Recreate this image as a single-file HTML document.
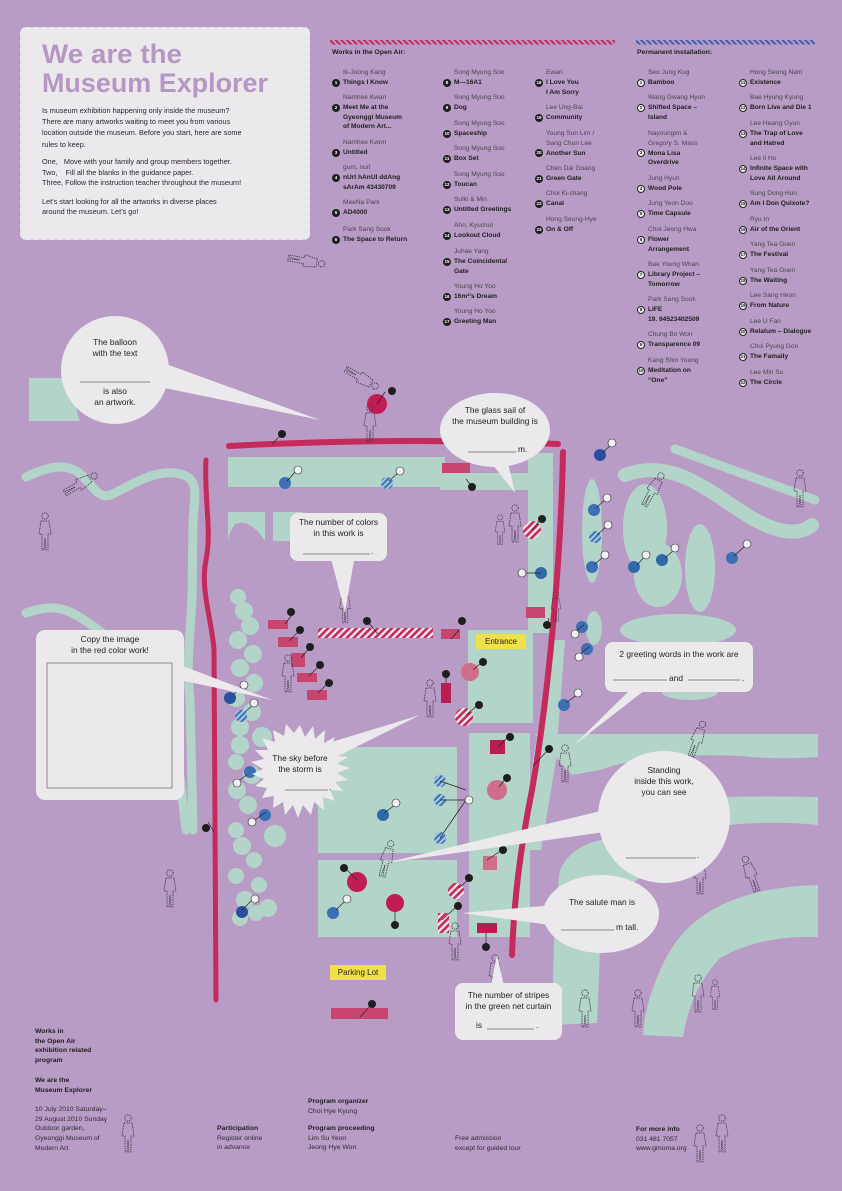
<!DOCTYPE html>
<html><head><meta charset="utf-8">
<style>
*{margin:0;padding:0;box-sizing:border-box}
body{width:842px;height:1191px;background:#b99cc5;position:relative;overflow:hidden;font-family:"Liberation Sans",sans-serif;color:#222}
svg.map{position:absolute;left:0;top:0}
.e{position:absolute;padding-left:11px;line-height:9.8px;font-size:6.6px;white-space:nowrap}
.e .nm{color:#4b4450}
.e b{color:#1e1e1e}
.e .c{position:absolute;left:0;top:10.5px;width:8px;height:8px;border-radius:50%;background:#1e1e1e;color:#fff;font-size:4.6px;text-align:center;line-height:8px;font-style:normal;font-weight:bold}
.e .p{background:#efedf0;color:#222;border:0.8px solid #222;line-height:6.6px}
.hd{position:absolute;font-size:6.8px;font-weight:bold;color:#1e1e1e}
.bt{position:absolute;font-size:7.3px;line-height:11.2px;color:#2b2630;white-space:nowrap}
.ft{position:absolute;font-size:6.8px;line-height:9.7px;color:#2f2a33;white-space:nowrap}
.ft b{color:#1e1e1e}
.bl{position:absolute;font-size:8.4px;line-height:11px;color:#222;text-align:center;white-space:nowrap}
.lab{position:absolute;font-size:8px;text-align:center;line-height:15px;color:#222}
</style></head><body>

<svg class="map" width="842" height="1191" viewBox="0 0 842 1191">
<defs>
<pattern id="rs" width="5" height="5" patternUnits="userSpaceOnUse" patternTransform="rotate(45)"><rect width="5" height="5" fill="#efe6ec"/><rect width="2.6" height="5" fill="#c42a5a"/></pattern>
<pattern id="bs" width="4" height="4" patternUnits="userSpaceOnUse" patternTransform="rotate(45)"><rect width="4" height="4" fill="#a9c9e2"/><rect width="2" height="4" fill="#3c73b4"/></pattern>
<pattern id="hr" width="4" height="4" patternUnits="userSpaceOnUse" patternTransform="rotate(-45)"><rect width="4" height="4" fill="#b99cc5"/><rect width="2" height="4" fill="#c42a5a"/></pattern>
<pattern id="hb" width="4" height="4" patternUnits="userSpaceOnUse" patternTransform="rotate(-45)"><rect width="4" height="4" fill="#b99cc5"/><rect width="2" height="4" fill="#3c5fb0"/></pattern>
<g id="fig" fill="none" stroke="#3a3340" stroke-width="0.8" stroke-dasharray="1.4 0.9"><circle cx="0" cy="-22" r="3.2"/><path d="M-4,-17 L4,-17 L6,-4 L3,-4 L3,12 L1,12 L0,0 L-1,12 L-3,12 L-3,-4 L-6,-4 Z"/></g>
</defs>

<rect x="330" y="40" width="285" height="4.5" fill="url(#hr)"/>
<rect x="636" y="40" width="179" height="4.5" fill="url(#hb)"/>

<g fill="#b3d4c9">
<path d="M29,378 L80,378 Q72,400 80,421 L29,421 Z"/>
<rect x="228" y="457" width="217" height="30"/>
<rect x="440" y="473" width="88" height="17"/>
<path d="M228,512 L265,512 L265,541 Q250,518 235,524 Q230,530 228,541 Z"/>
<rect x="273" y="512" width="30" height="29"/>
<rect x="528" y="453" width="25" height="180"/>
<rect x="503" y="473" width="25" height="17"/>
<rect x="468" y="630" width="65" height="93"/>
<rect x="469" y="733" width="61" height="204"/>
<rect x="318" y="747" width="139" height="106"/>
<rect x="318" y="860" width="139" height="77"/>
<!-- right side -->
<path d="M535,734 L818,734 L818,757 Q780,760 740,756 Q650,752 600,770 L572,775 Z"/>
<path d="M553,640 L565,640 L556,760 L541,850 L523,850 L533,760 Z"/>
<path d="M720,797 Q770,796 818,797 L818,825 Q770,820 720,826 Z"/>
<path d="M560,870 Q572,843 612,838 L640,878 Q605,900 600,950 L597,1023 L553,1025 Q552,930 560,870 Z"/>
<path d="M818,885 Q700,888 665,960 Q645,1000 643,1035 L683,1037 Q690,990 720,958 Q760,935 818,937 Z"/>
<ellipse cx="592" cy="531" rx="10" ry="52"/>
<ellipse cx="645" cy="528" rx="22" ry="44"/>
<ellipse cx="658" cy="575" rx="24" ry="32"/>
<ellipse cx="700" cy="568" rx="15" ry="44"/>
<ellipse cx="678" cy="630" rx="58" ry="16"/>
<ellipse cx="594" cy="628" rx="8" ry="17"/>
<ellipse cx="690" cy="692" rx="28" ry="8"/>
<!-- left circles column -->
<circle cx="238" cy="597" r="8"/><circle cx="244" cy="611" r="9"/><circle cx="250" cy="626" r="9"/><circle cx="238" cy="640" r="9"/><circle cx="253" cy="654" r="9"/><circle cx="240" cy="668" r="9"/><circle cx="254" cy="683" r="9"/><circle cx="236" cy="698" r="9"/><circle cx="252" cy="712" r="9"/><circle cx="240" cy="727" r="9"/><circle cx="262" cy="737" r="10"/><circle cx="240" cy="745" r="9"/><circle cx="236" cy="762" r="8"/><circle cx="252" cy="775" r="9"/><circle cx="237" cy="790" r="9"/><circle cx="248" cy="805" r="9"/><circle cx="275" cy="836" r="11"/><circle cx="236" cy="830" r="8"/><circle cx="242" cy="846" r="9"/><circle cx="254" cy="860" r="8"/><circle cx="236" cy="876" r="8"/><circle cx="259" cy="885" r="8"/><circle cx="245" cy="900" r="9"/><circle cx="268" cy="908" r="9"/><circle cx="240" cy="918" r="8"/><circle cx="256" cy="913" r="8"/>
</g>
<g fill="none" stroke="#b3d4c9" stroke-width="9" stroke-linecap="round">
<path d="M26,477 C45,468 62,463 76,471 S96,500 110,495 S150,470 175,473 S195,492 193,520 L192,600 C190,640 186,660 190,700 L193,830"/>
<path d="M26,613 C40,608 55,605 70,612 S95,628 112,640 C140,665 165,700 178,760 L186,830"/>
<path d="M675,449 L815,500"/>
<path d="M625,475 C670,458 705,488 742,512 S800,535 812,525" stroke-width="14"/>
</g>

<g fill="none" stroke="#c42a5a" stroke-linecap="round">
<path d="M229,446 Q400,437 558,444" stroke-width="6"/>
<path d="M563,452 C561,560 548,700 532,790 C520,850 514,900 512,955" stroke-width="6"/>
<path d="M206,460 C204,500 212,530 206,560 C200,590 212,620 214,650 L216,1000" stroke-width="5"/>
</g>

<g>
<rect x="318" y="628" width="115" height="10" fill="url(#rs)"/>
<g fill="#c8456f">
<rect x="268" y="620" width="20" height="9"/><rect x="278" y="637" width="20" height="10"/><rect x="291" y="653" width="14" height="14"/><rect x="297" y="673" width="20" height="9"/><rect x="307" y="690" width="20" height="10"/>
<rect x="442" y="463" width="28" height="10"/><rect x="526" y="607" width="19" height="11"/><rect x="441" y="629" width="19" height="10"/>
<rect x="331" y="1008" width="57" height="11"/><rect x="483" y="856" width="14" height="14" fill="#cf6d8a"/>
</g>
<rect x="441" y="683" width="10" height="20" fill="#b81e4f"/>
<rect x="490" y="740" width="15" height="14" fill="#b81e4f"/>
<rect x="477" y="923" width="20" height="10" fill="#b81e4f"/>
<circle cx="377" cy="404" r="10" fill="#c21d52"/>
<circle cx="470" cy="672" r="9" fill="#cf6d8a"/>
<circle cx="464" cy="717" r="9" fill="url(#rs)"/>
<circle cx="532" cy="530" r="9" fill="url(#rs)"/>
<circle cx="497" cy="790" r="10" fill="#cf6d8a"/>
<circle cx="357" cy="882" r="10" fill="#c21d52"/>
<circle cx="395" cy="903" r="9" fill="#c21d52"/>
<circle cx="456" cy="891" r="8" fill="url(#rs)"/>
<rect x="438" y="913" width="11" height="20" fill="url(#rs)"/>
<g fill="#3c6fb3">
<circle cx="285" cy="483" r="6"/><circle cx="387" cy="483" r="6" fill="url(#bs)"/><circle cx="541" cy="573" r="6" fill="#2f6aa6"/>
<circle cx="230" cy="698" r="6" fill="#2b4f9f"/><circle cx="241" cy="716" r="6" fill="url(#bs)"/><circle cx="250" cy="772" r="6"/><circle cx="265" cy="815" r="6"/><circle cx="242" cy="912" r="6" fill="#2b4f9f"/>
<circle cx="383" cy="815" r="6" fill="#2f6aa6"/><circle cx="440" cy="781" r="6" fill="url(#bs)"/><circle cx="440" cy="800" r="6" fill="url(#bs)"/><circle cx="440" cy="838" r="6" fill="url(#bs)"/><circle cx="333" cy="913" r="6"/>
<circle cx="600" cy="455" r="6" fill="#2b4f9f"/><circle cx="594" cy="510" r="6"/><circle cx="595" cy="537" r="6" fill="url(#bs)"/><circle cx="592" cy="567" r="6"/><circle cx="634" cy="567" r="6" fill="#2f6aa6"/><circle cx="662" cy="560" r="6" fill="#2f6aa6"/><circle cx="732" cy="558" r="6"/><circle cx="582" cy="627" r="6"/><circle cx="587" cy="649" r="6"/><circle cx="564" cy="705" r="6"/>
</g>
</g>

<g stroke="#222" stroke-width="0.7">
<path d="M272,444 L282,434 M466,479 L470,484 M377,404 L385,392 M541,573 L525,573 M287,481 L297,470 M389,481 L399,472 M532,530 L540,520 M549,618 L548,622 M451,639 L459,630 M446,683 L446,675 M473,670 L482,662 M466,715 L478,705 M498,747 L508,737 M378,634 L368,622 M285,624 L292,615 M289,641 L298,632 M301,658 L309,648 M309,676 L318,667 M318,693 L327,684 M234,694 L243,685 M245,712 L253,705 M247,775 L238,781 M266,812 L255,820 M242,910 L252,900 M499,787 L506,778 M384,813 L395,805 M357,880 L347,870 M395,912 L395,922 M336,910 L346,900 M459,888 L469,879 M442,920 L455,908 M487,860 L502,850 M486,933 L486,947 M360,1017 L370,1006 M208,822 L214,832 M533,766 L548,750 M602,453 L612,444 M596,508 L606,499 M597,535 L607,526 M594,565 L604,556 M637,565 L645,556 M665,558 L675,549 M734,556 L746,545 M584,625 L576,631 M589,647 L580,654 M566,703 L578,694 M440,781 L466,790 M440,800 L466,800 M440,838 L466,800"/>
</g>
<g font-family="Liberation Sans" font-size="4.6" font-weight="bold" text-anchor="middle">
<g fill="#1e1e1e">
<circle cx="282" cy="434" r="4"/><circle cx="472" cy="487" r="4"/><circle cx="392" cy="391" r="4"/><circle cx="542" cy="519" r="4"/><circle cx="547" cy="625" r="4"/><circle cx="462" cy="621" r="4"/><circle cx="446" cy="674" r="4"/><circle cx="483" cy="662" r="4"/><circle cx="479" cy="705" r="4"/><circle cx="510" cy="737" r="4"/><circle cx="367" cy="621" r="4"/><circle cx="291" cy="612" r="4"/><circle cx="300" cy="630" r="4"/><circle cx="310" cy="647" r="4"/><circle cx="320" cy="665" r="4"/><circle cx="329" cy="683" r="4"/><circle cx="507" cy="778" r="4"/><circle cx="344" cy="868" r="4"/><circle cx="395" cy="925" r="4"/><circle cx="469" cy="878" r="4"/><circle cx="458" cy="906" r="4"/><circle cx="503" cy="850" r="4"/><circle cx="486" cy="947" r="4"/><circle cx="372" cy="1004" r="4"/><circle cx="206" cy="828" r="4"/><circle cx="549" cy="749" r="4"/>
</g>
<g fill="#f2f0f3" stroke="#222" stroke-width="0.6">
<circle cx="298" cy="470" r="4"/><circle cx="400" cy="471" r="4"/><circle cx="522" cy="573" r="4"/><circle cx="244" cy="685" r="4"/><circle cx="254" cy="703" r="4"/><circle cx="237" cy="783" r="4"/><circle cx="252" cy="822" r="4"/><circle cx="255" cy="899" r="4"/><circle cx="396" cy="803" r="4"/><circle cx="347" cy="899" r="4"/><circle cx="469" cy="800" r="4"/><circle cx="612" cy="443" r="4"/><circle cx="607" cy="498" r="4"/><circle cx="608" cy="525" r="4"/><circle cx="605" cy="555" r="4"/><circle cx="646" cy="555" r="4"/><circle cx="675" cy="548" r="4"/><circle cx="747" cy="544" r="4"/><circle cx="575" cy="634" r="4"/><circle cx="579" cy="657" r="4"/><circle cx="578" cy="693" r="4"/>
</g>
</g>

<g>
<use href="#fig" transform="translate(370,430)"/>
<use href="#fig" transform="translate(515,530)"/>
<use href="#fig" transform="translate(500,535) scale(0.8)"/>
<use href="#fig" transform="translate(288,680)"/>
<use href="#fig" transform="translate(430,705)"/>
<use href="#fig" transform="translate(455,948)"/>
<use href="#fig" transform="translate(495,980)"/>
<use href="#fig" transform="translate(565,770)"/>
<use href="#fig" transform="translate(385,865) rotate(15)"/>
<use href="#fig" transform="translate(45,538)"/>
<use href="#fig" transform="translate(75,487) rotate(60)"/>
<use href="#fig" transform="translate(345,612) scale(0.9)"/>
<use href="#fig" transform="translate(556,612) scale(0.8)"/>
<use href="#fig" transform="translate(800,495)"/>
<use href="#fig" transform="translate(650,495) rotate(30)"/>
<use href="#fig" transform="translate(695,745) rotate(20)"/>
<use href="#fig" transform="translate(753,880) rotate(-20)"/>
<use href="#fig" transform="translate(700,882)"/>
<use href="#fig" transform="translate(698,1000)"/>
<use href="#fig" transform="translate(715,1000) scale(0.8)"/>
<use href="#fig" transform="translate(300,260) rotate(100)"/>
<use href="#fig" transform="translate(356,375) rotate(120)"/>
<use href="#fig" transform="translate(170,895)"/>
<use href="#fig" transform="translate(128,1140)"/>
<use href="#fig" transform="translate(722,1140)"/>
<use href="#fig" transform="translate(700,1150)"/>
<use href="#fig" transform="translate(585,1015)"/>
<use href="#fig" transform="translate(638,1015)"/>
</g>

<g fill="#ebe9ec">
<path d="M150,385 L320,420 L155,360 Z"/>
<circle cx="115" cy="370" r="54"/>
<path d="M485,455 L515,493 L505,450 Z"/>
<ellipse cx="495" cy="430" rx="55" ry="37"/>
<path d="M330,555 L345,612 L355,555 Z"/>
<rect x="290" y="513" width="97" height="48" rx="8"/>
<path d="M180,680 L272,700 L180,665 Z"/>
<rect x="36" y="630" width="148" height="170" rx="9"/>
<path d="M320,765 L420,715 L322,745 Z"/>
<polygon points="300,725 305,737 313,726 315,739 325,730 324,743 335,737 330,749 343,746 335,756 348,757 337,764 350,768 337,773 348,780 335,782 343,791 330,790 335,801 323,797 324,810 314,802 311,815 303,805 298,818 293,805 285,815 283,802 273,808 274,796 262,798 267,788 255,786 264,779 252,774 263,769 251,762 264,759 255,750 268,750 262,738 275,742 273,730 284,736 286,724 294,733"/>
<path d="M630,690 L573,746 L645,690 Z"/>
<rect x="605" y="642" width="148" height="50" rx="8"/>
<path d="M605,810 L385,863 L605,832 Z"/>
<circle cx="664" cy="817" r="66"/>
<path d="M555,905 L462,913 L550,925 Z"/>
<ellipse cx="601" cy="914" rx="58" ry="39"/>
<path d="M490,990 L497,955 L505,990 Z"/>
<rect x="455" y="983" width="107" height="57" rx="8"/>
</g>
<g stroke="#666" stroke-width="0.7" fill="none">
<path d="M80,382 L150,382"/>
<path d="M468,452 L516,452"/>
<path d="M303,554 L370,554"/>
<rect x="47" y="663" width="125" height="125"/>
<path d="M285,790 L328,790"/>
<path d="M613,680 L667,680 M688,680 L740,680"/>
<path d="M626,858 L696,858"/>
<path d="M561,930 L614,930"/>
<path d="M487,1029 L534,1029"/>
</g>
<rect x="476" y="634" width="50" height="15" fill="#f0e14a"/>
<rect x="330" y="965" width="56" height="15" fill="#f0e14a"/>
</svg>

<div style="position:absolute;left:20px;top:27px;width:290px;height:213px;background:#ebe9ec;border-radius:6px"></div>
<div style="position:absolute;left:20px;top:24px;width:290px;height:6px;background:radial-gradient(circle at 50% 0,#b99cc5 3.2px,transparent 3.6px) 0 0/8px 6px repeat-x"></div>
<div style="position:absolute;left:20px;top:237px;width:290px;height:6px;background:radial-gradient(circle at 50% 100%,#b99cc5 3.2px,transparent 3.6px) 0 0/8px 6px repeat-x"></div>
<div style="position:absolute;left:17px;top:27px;width:6px;height:213px;background:radial-gradient(circle at 0 50%,#b99cc5 3.2px,transparent 3.6px) 0 0/6px 8px repeat-y"></div>
<div style="position:absolute;left:307px;top:27px;width:6px;height:213px;background:radial-gradient(circle at 100% 50%,#b99cc5 3.2px,transparent 3.6px) 0 0/6px 8px repeat-y"></div>
<svg style="position:absolute;left:0;top:0" width="320" height="100">
<text x="42" y="63" font-family="Liberation Sans" font-weight="bold" font-size="27" fill="#b597c3" textLength="140" lengthAdjust="spacingAndGlyphs">We are the</text>
<text x="42" y="92" font-family="Liberation Sans" font-weight="bold" font-size="27" fill="#b597c3" textLength="226" lengthAdjust="spacingAndGlyphs">Museum Explorer</text>
</svg>
<div class="bt" style="left:42px;top:105px">Is museum exhibition happening only inside the museum?<br>There are many artworks waiting to meet you from various<br>location outside the museum. Before you start, here are some<br>rules to keep.</div>
<div class="bt" style="left:42px;top:157px;line-height:10.5px">One,&nbsp;&nbsp; Move with your family and group members together.<br>Two,&nbsp;&nbsp;&nbsp; Fill all the blanks in the guidance paper.<br>Three, Follow the instruction teacher throughout the museum!</div>
<div class="bt" style="left:42px;top:197px;line-height:10px">Let’s start looking for all the artworks in diverse places<br>around the museum. Let’s go!</div>

<div class="hd" style="left:332px;top:49px">Works in the Open Air:</div>
<div class="e" style="left:332px;top:68px"><span class="nm">Ik-Joong Kang</span><br><i class="c">1</i><b>Things I Know</b></div>
<div class="e" style="left:332px;top:93px"><span class="nm">Namhee Kwan</span><br><i class="c">2</i><b>Meet Me at the<br>Gyeonggi Museum<br>of Modern Art...</b></div>
<div class="e" style="left:332px;top:138px"><span class="nm">Namhee Kwon</span><br><i class="c">3</i><b>Untitled</b></div>
<div class="e" style="left:332px;top:163px"><span class="nm">gum, nuri</span><br><i class="c">4</i><b>nUrI hAnUl ddAng<br>sArAm 43430709</b></div>
<div class="e" style="left:332px;top:198px"><span class="nm">MeeNa Park</span><br><i class="c">5</i><b>AD4000</b></div>
<div class="e" style="left:332px;top:225px"><span class="nm">Park Sang Sook</span><br><i class="c">6</i><b>The Space to Return</b></div>

<div class="e" style="left:443px;top:68px"><span class="nm">Song Myung Soo</span><br><i class="c">8</i><b>M—16A1</b></div>
<div class="e" style="left:443px;top:93px"><span class="nm">Song Myung Soo</span><br><i class="c">9</i><b>Dog</b></div>
<div class="e" style="left:443px;top:119px"><span class="nm">Song Myung Soo</span><br><i class="c">10</i><b>Spaceship</b></div>
<div class="e" style="left:443px;top:144px"><span class="nm">Song Myung Soo</span><br><i class="c">11</i><b>Box Set</b></div>
<div class="e" style="left:443px;top:170px"><span class="nm">Song Myung Soo</span><br><i class="c">12</i><b>Toucan</b></div>
<div class="e" style="left:443px;top:195px"><span class="nm">Sulki &amp; Min</span><br><i class="c">13</i><b>Untitled Greetings</b></div>
<div class="e" style="left:443px;top:221px"><span class="nm">Ahn, Kyuchul</span><br><i class="c">14</i><b>Lookout Cloud</b></div>
<div class="e" style="left:443px;top:247px"><span class="nm">Juhae Yang</span><br><i class="c">15</i><b>The Coincidental<br>Gate</b></div>
<div class="e" style="left:443px;top:282px"><span class="nm">Young Ho Yoo</span><br><i class="c">16</i><b>16m²’s Dream</b></div>
<div class="e" style="left:443px;top:307px"><span class="nm">Young Ho Yoo</span><br><i class="c">17</i><b>Greeting Man</b></div>

<div class="e" style="left:535px;top:68px"><span class="nm">Ewan</span><br><i class="c">18</i><b>I Love You<br>I Am Sorry</b></div>
<div class="e" style="left:535px;top:103px"><span class="nm">Lee Ung-Bai</span><br><i class="c">19</i><b>Community</b></div>
<div class="e" style="left:535px;top:129px"><span class="nm">Young Sun Lim /<br>Sang Chun Lee</span><br><i class="c" style="top:20px">20</i><b>Another Sun</b></div>
<div class="e" style="left:535px;top:164px"><span class="nm">Chen Dai Goang</span><br><i class="c">21</i><b>Green Gate</b></div>
<div class="e" style="left:535px;top:189px"><span class="nm">Choi Ki-chang</span><br><i class="c">22</i><b>Canal</b></div>
<div class="e" style="left:535px;top:215px"><span class="nm">Hong Seung-Hye</span><br><i class="c">23</i><b>On &amp; Off</b></div>

<div class="hd" style="left:637px;top:49px">Permanent installation:</div>
<div class="e" style="left:637px;top:68px"><span class="nm">Seo Jung Kug</span><br><i class="c p">1</i><b>Bamboo</b></div>
<div class="e" style="left:637px;top:93px"><span class="nm">Wang Gwang Hyun</span><br><i class="c p">2</i><b>Shifted Space –<br>Island</b></div>
<div class="e" style="left:637px;top:129px"><span class="nm">Nayoungim &amp;<br>Gregory S. Mass</span><br><i class="c p" style="top:20px">3</i><b>Mona Lisa<br>Overdrive</b></div>
<div class="e" style="left:637px;top:174px"><span class="nm">Jung Hyun</span><br><i class="c p">4</i><b>Wood Pole</b></div>
<div class="e" style="left:637px;top:199px"><span class="nm">Jung Yeon Doo</span><br><i class="c p">5</i><b>Time Capsule</b></div>
<div class="e" style="left:637px;top:225px"><span class="nm">Choi Jeong Hwa</span><br><i class="c p">6</i><b>Flower<br>Arrangement</b></div>
<div class="e" style="left:637px;top:260px"><span class="nm">Bae Young Whan</span><br><i class="c p">7</i><b>Library Project –<br>Tomorrow</b></div>
<div class="e" style="left:637px;top:295px"><span class="nm">Park Sang Sook</span><br><i class="c p">8</i><b>LIFE<br>19. 94523402509</b></div>
<div class="e" style="left:637px;top:330px"><span class="nm">Chung Bo Won</span><br><i class="c p">9</i><b>Transparence 09</b></div>
<div class="e" style="left:637px;top:356px"><span class="nm">Kang Shin Young</span><br><i class="c p">10</i><b>Meditation on<br>“One”</b></div>

<div class="e" style="left:739px;top:68px"><span class="nm">Hong Seung Nam</span><br><i class="c p">11</i><b>Existence</b></div>
<div class="e" style="left:739px;top:93px"><span class="nm">Bae Hyung Kyung</span><br><i class="c p">12</i><b>Born Live and Die 1</b></div>
<div class="e" style="left:739px;top:119px"><span class="nm">Lee Heang Gyun</span><br><i class="c p">13</i><b>The Trap of Love<br>and Hatred</b></div>
<div class="e" style="left:739px;top:154px"><span class="nm">Lee Il Ho</span><br><i class="c p">14</i><b>Infinite Space with<br>Love All Around</b></div>
<div class="e" style="left:739px;top:189px"><span class="nm">Sung Dong Hun</span><br><i class="c p">15</i><b>Am I Don Quixote?</b></div>
<div class="e" style="left:739px;top:215px"><span class="nm">Ryu In</span><br><i class="c p">16</i><b>Air of the Orient</b></div>
<div class="e" style="left:739px;top:240px"><span class="nm">Yang Tea Guen</span><br><i class="c p">17</i><b>The Festival</b></div>
<div class="e" style="left:739px;top:266px"><span class="nm">Yang Tea Guen</span><br><i class="c p">18</i><b>The Waiting</b></div>
<div class="e" style="left:739px;top:291px"><span class="nm">Lee Sang Heon</span><br><i class="c p">19</i><b>From Nature</b></div>
<div class="e" style="left:739px;top:317px"><span class="nm">Lee U Fan</span><br><i class="c p">20</i><b>Relatum – Dialogue</b></div>
<div class="e" style="left:739px;top:342px"><span class="nm">Choi Pyung Gon</span><br><i class="c p">21</i><b>The Famaily</b></div>
<div class="e" style="left:739px;top:368px"><span class="nm">Lee Min Su</span><br><i class="c p">22</i><b>The Circle</b></div>

<div class="bl" style="left:65px;top:337px;width:100px">The balloon<br>with the text</div>
<div class="bl" style="left:65px;top:386px;width:100px">is also<br>an artwork.</div>
<div class="bl" style="left:440px;top:405px;width:110px">The glass sail of<br>the museum building is</div>
<div class="bl" style="left:518px;top:444px">m.</div>
<div class="bl" style="left:290px;top:517px;width:97px">The number of colors<br>in this work is</div>
<div class="bl" style="left:371px;top:546px">.</div>
<div class="bl" style="left:36px;top:634px;width:148px">Copy the image<br>in the red color work!</div>
<div class="bl" style="left:262px;top:753px;width:76px">The sky before<br>the storm is</div>
<div class="bl" style="left:329px;top:782px">.</div>
<div class="bl" style="left:605px;top:649px;width:148px">2 greeting words in the work are</div>
<div class="bl" style="left:669px;top:673px">and</div>
<div class="bl" style="left:742px;top:673px">.</div>
<div class="bl" style="left:610px;top:765px;width:108px">Standing<br>inside this work,<br>you can see</div>
<div class="bl" style="left:697px;top:850px">.</div>
<div class="bl" style="left:560px;top:897px;width:84px">The salute man is</div>
<div class="bl" style="left:616px;top:922px">m tall.</div>
<div class="bl" style="left:455px;top:990px;width:107px">The number of stripes<br>in the green net curtain</div>
<div class="bl" style="left:476px;top:1020px">is</div>
<div class="bl" style="left:536px;top:1020px">.</div>
<div class="lab" style="left:476px;top:634px;width:50px">Entrance</div>
<div class="lab" style="left:330px;top:965px;width:56px">Parking Lot</div>

<div class="ft" style="left:35px;top:1027px"><b>Works in<br>the Open Air<br>exhibition related<br>program</b></div>
<div class="ft" style="left:35px;top:1076px"><b>We are the<br>Museum Explorer</b></div>
<div class="ft" style="left:35px;top:1105px">10 July 2010 Saturday–<br>29 August 2010 Sunday<br>Outdoor garden,<br>Gyeonggi Museum of<br>Modern Art</div>
<div class="ft" style="left:217px;top:1124px"><b>Participation</b><br>Register online<br>in advance</div>
<div class="ft" style="left:308px;top:1097px"><b>Program organizer</b><br>Choi Hye Kyung</div>
<div class="ft" style="left:308px;top:1124px"><b>Program proceeding</b><br>Lim Su Yeon<br>Jeong Hye Won</div>
<div class="ft" style="left:455px;top:1134px">Free admission<br>except for guided tour</div>
<div class="ft" style="left:636px;top:1125px"><b>For more info</b><br>031 481 7057<br>www.gmoma.org</div>
</body></html>
